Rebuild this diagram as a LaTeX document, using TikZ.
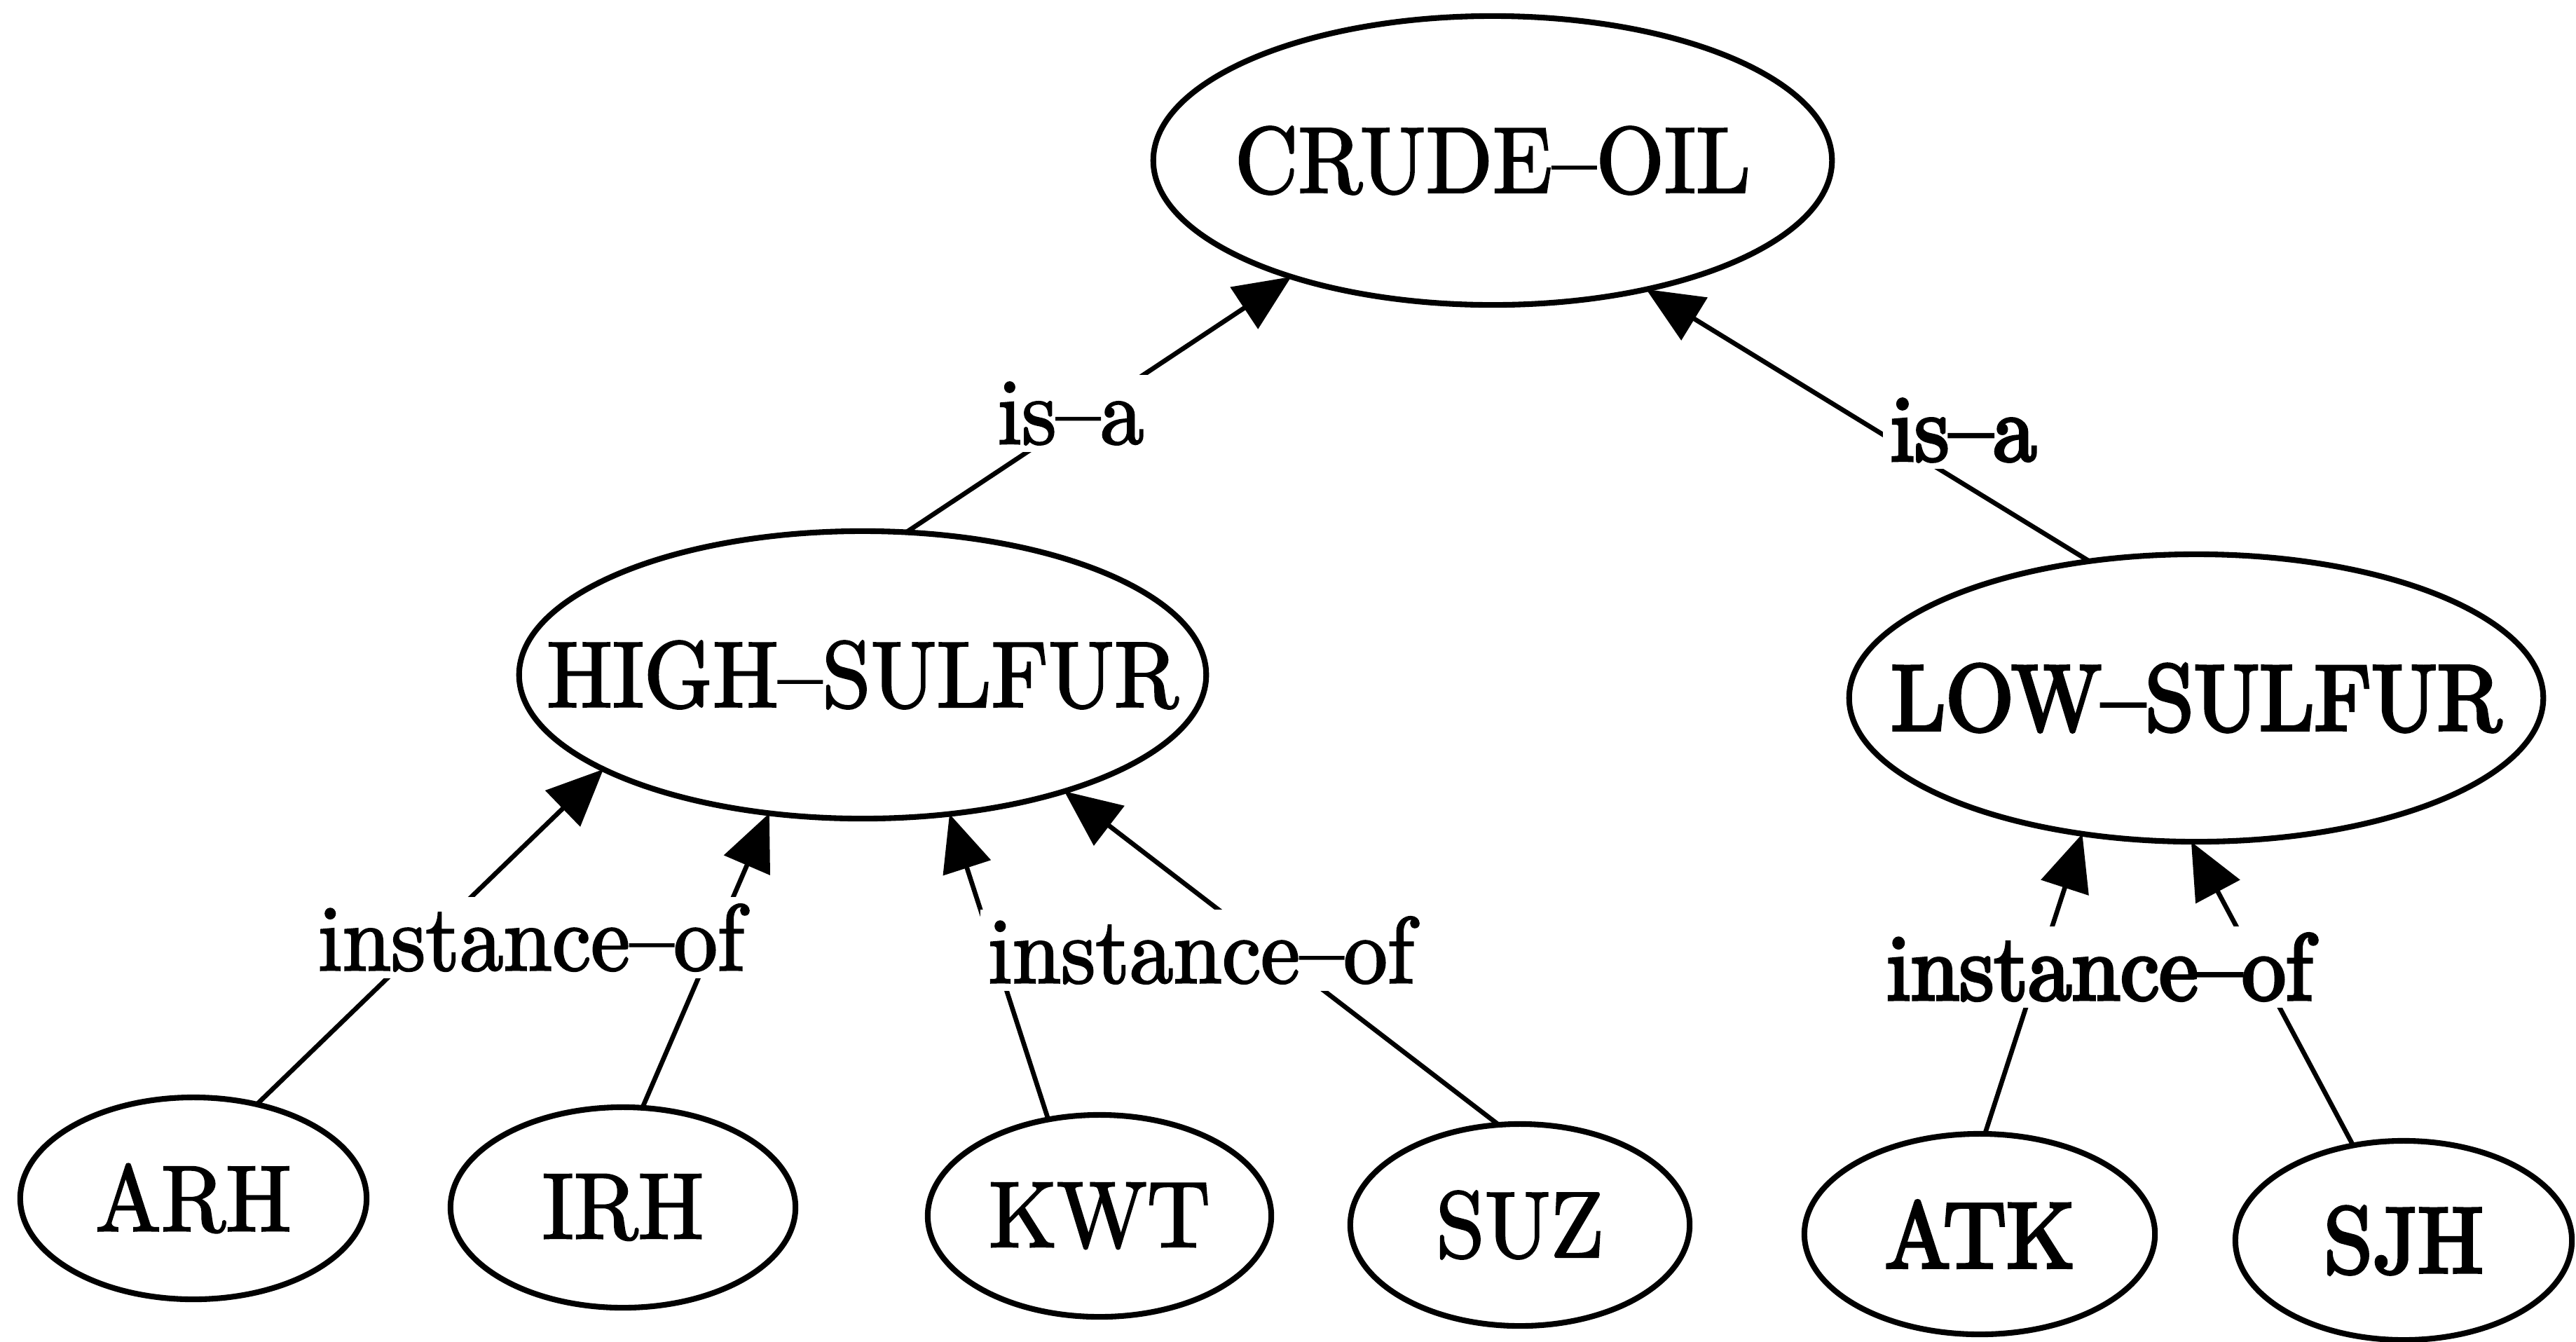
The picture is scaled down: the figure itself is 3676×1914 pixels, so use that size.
\documentclass[tikz,border=0pt]{standalone}
\usepackage{fontspec}
\usetikzlibrary{shapes.geometric,arrows.meta}
% heavy-inked, slightly condensed Computer Modern look
\newfontface\inkA{lmroman10-regular.otf}[FakeBold=2.0, FakeStretch=0.935]
\newfontface\inkB{lmroman10-regular.otf}[FakeBold=3.4, FakeStretch=0.935]
\tikzset{
  concept/.style={draw, ellipse, line width=2.3pt, inner sep=0pt, outer sep=0pt},
  lightink/.style={font=\inkA\fontsize{38}{42}\selectfont},
  darkink/.style={font=\inkB\fontsize{38}{42}\selectfont},
  rel/.style={line width=1.9pt, -{Triangle[length=23pt,width=20pt]}},
  tag/.style={fill=white, inner sep=3pt},
}
\begin{document}
\begin{tikzpicture}[x=0.01cm, y=-0.01cm]
\useasboundingbox (0,0) rectangle (3676,1914);

% concept nodes
\node[concept, minimum width=9.68cm, minimum height=4.12cm,
      label={[lightink]center:CRUDE–OIL}] (co) at (2130,229) {};
\node[concept, minimum width=9.80cm, minimum height=4.10cm,
      label={[lightink]center:HIGH–SULFUR}] (hs) at (1231,963) {};
\node[concept, minimum width=9.90cm, minimum height=4.10cm,
      label={[darkink]center:LOW–SULFUR}] (ls) at (3134,996) {};

% instance nodes
\node[concept, minimum width=4.94cm, minimum height=2.88cm,
      label={[lightink]center:ARH}] (arh) at (276,1710) {};
\node[concept, minimum width=4.92cm, minimum height=2.86cm,
      label={[lightink]center:IRH}] (irh) at (889,1723) {};
\node[concept, minimum width=4.90cm, minimum height=2.88cm,
      label={[lightink]center:KWT}] (kwt) at (1569,1735) {};
\node[concept, minimum width=4.84cm, minimum height=2.88cm,
      label={[lightink]center:SUZ}] (suz) at (2169,1748) {};
\node[concept, minimum width=5.00cm, minimum height=2.86cm,
      label={[darkink]center:ATK}] (atk) at (2825,1761) {};
\node[concept, minimum width=4.80cm, minimum height=2.84cm,
      label={[darkink]center:SJH}] (sjh) at (3430,1770) {};

% relations
\draw[rel] (hs.73.9)   -- (co.210.4);
\draw[rel] (ls.128.8)  -- (co.320.1);
\draw[rel] (arh.56.9)  -- (hs.200.7);
\draw[rel] (irh.79.1)  -- (hs.236.8);
\draw[rel] (kwt.118.8) -- (hs.302.1);
\draw[rel] (suz.102.7) -- (hs.330);
\draw[rel] (atk.87.5)  -- (ls.230.3);
\draw[rel] (sjh.118.7) -- (ls.268.3);

% relation names
\node[tag, lightink] (isaL)  at (1528,590)  {is–a};
\node[tag, darkink]  (isaR)  at (2802,614)  {is–a};
\node[tag, lightink] (instL) at (758,1338)  {instance–of};
\node[tag, lightink] (instM) at (1714,1356) {instance–of};
\node[tag, darkink]  (instR) at (2996,1380) {instance–of};
\end{tikzpicture}
\end{document}
